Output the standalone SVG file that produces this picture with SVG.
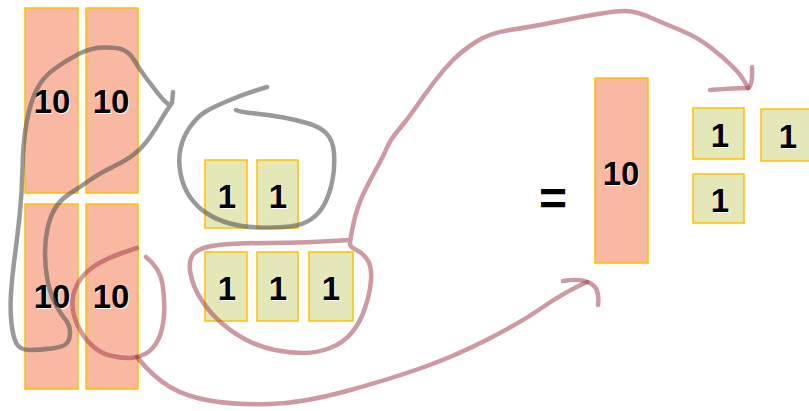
<svg xmlns="http://www.w3.org/2000/svg" width="809" height="411" viewBox="0 0 809 411">
<style>
.ten{fill:#F9B8A1;stroke:#FFC000;stroke-width:1.5}
.one{fill:#E4E8B9;stroke:#FFC000;stroke-width:1.5}
.lbl{font-family:"Liberation Sans",Arial,sans-serif;font-weight:bold;font-size:33px;text-anchor:middle;fill:#000}
.sh{fill:#fff;opacity:0.9}
.gray{fill:none;stroke:#555;stroke-opacity:0.6;stroke-width:4.5;stroke-linecap:round;stroke-linejoin:round}
.red{fill:none;stroke:#9b3348;stroke-opacity:0.5;stroke-width:4.5;stroke-linecap:round;stroke-linejoin:round}
</style>
<rect width="809" height="411" fill="#fff"/>
<g id="ten-a"><rect class="ten" x="25" y="8" width="53" height="185"/><text class="lbl sh" x="53" y="114">10</text><text class="lbl" x="52" y="113">10</text></g>
<g id="ten-b"><rect class="ten" x="86" y="8" width="52" height="185"/><text class="lbl sh" x="112" y="114">10</text><text class="lbl" x="111" y="113">10</text></g>
<g id="ten-c"><rect class="ten" x="25" y="204" width="53" height="185"/><text class="lbl sh" x="53" y="309">10</text><text class="lbl" x="52" y="308">10</text></g>
<g id="ten-d"><rect class="ten" x="86" y="204" width="52" height="185"/><text class="lbl sh" x="112" y="309">10</text><text class="lbl" x="111" y="308">10</text></g>
<g id="one-a"><rect class="one" x="205" y="160" width="42" height="68"/><text class="lbl sh" x="228" y="209">1</text><text class="lbl" x="227" y="208">1</text></g>
<g id="one-b"><rect class="one" x="257" y="160" width="41" height="68"/><text class="lbl sh" x="279" y="209">1</text><text class="lbl" x="278" y="208">1</text></g>
<g id="one-c"><rect class="one" x="205" y="252" width="42" height="69"/><text class="lbl sh" x="228" y="301">1</text><text class="lbl" x="227" y="300">1</text></g>
<g id="one-d"><rect class="one" x="257" y="252" width="41" height="69"/><text class="lbl sh" x="279" y="301">1</text><text class="lbl" x="278" y="300">1</text></g>
<g id="one-e"><rect class="one" x="309" y="252" width="44" height="69"/><text class="lbl sh" x="332" y="301">1</text><text class="lbl" x="331" y="300">1</text></g>
<g id="equals"><text class="lbl" x="553" y="215" style="font-size:48px">=</text></g>
<g id="ten-result"><rect class="ten" x="595" y="78" width="53" height="185"/><text class="lbl sh" x="622" y="186">10</text><text class="lbl" x="621" y="185">10</text></g>
<g id="one-r1"><rect class="one" x="693" y="108" width="51" height="51"/><text class="lbl sh" x="721" y="148">1</text><text class="lbl" x="720" y="147">1</text></g>
<g id="one-r2"><rect class="one" x="761" y="109" width="52" height="52"/><text class="lbl sh" x="789" y="149">1</text><text class="lbl" x="788" y="148">1</text></g>
<g id="one-r3"><rect class="one" x="693" y="174" width="51" height="49"/><text class="lbl sh" x="721" y="213">1</text><text class="lbl" x="720" y="212">1</text></g>
<g id="connectors">
<path class="gray" d="M 173,92 L 172,103 Q 166,111 161.5,119 Q 157,127 150,137 Q 143,147 135,153.5 Q 127,160 113.5,166.5 Q 100,173 90,180 Q 80,187 70,193.5 Q 60,200 55,208.5 Q 50,217 47.5,228.5 Q 45,240 45,253.5 Q 45,267 47.5,280 Q 50,293 55,303 Q 60,313 65,319 Q 70,325 70,332.5 Q 70,340 66.5,343.5 Q 63,347 51.5,348.5 Q 40,350 30,350 Q 20,350 16.5,343.5 Q 13,337 11.5,323.5 Q 10,310 11,293.5 Q 12,277 14.5,258.5 Q 17,240 19.5,216.5 Q 22,193 22.5,168 Q 23,143 26.5,123 Q 30,103 36.5,90 Q 43,77 55,68.5 Q 67,60 78.5,54 Q 90,48 103.5,47.5 Q 117,47 123.5,50 Q 130,53 135,61.5 Q 140,70 146.5,78.5 Q 153,87 158,93.5 Q 163,100 168,104"/>
<path class="gray" d="M 267,87 Q 247,93 230,100 Q 213,107 205,112 Q 197,117 190,127 Q 183,137 180.5,148.5 Q 178,160 180.5,173.5 Q 183,187 190,197 Q 197,207 207,213.5 Q 217,220 230,223.5 Q 243,227 260,227.5 Q 277,228 290,226.5 Q 303,225 311.5,219 Q 320,213 325,203 Q 330,193 332.5,180 Q 335,167 334,153.5 Q 333,140 326.5,133.5 Q 320,127 308.5,123.5 Q 297,120 283.5,117.5 Q 270,115 255,113.5 Q 240,112 236,110"/>
<path class="red" d="M 146,257 Q 160,268 162.5,284 Q 165,300 164,315 Q 163,330 158,340 Q 153,350 145,354 Q 137,358 128.5,358 Q 120,358 110,355.5 Q 100,353 91.5,345 Q 83,337 77.5,325 Q 72,313 72.5,301.5 Q 73,290 80,280 Q 87,270 98.5,263.5 Q 110,257 123.5,252.5 Q 137,248 137,248"/>
<path class="red" d="M 137,357 Q 153,377 170,387 Q 187,397 212,401 Q 237,405 270,404 Q 303,403 345,391.5 Q 387,380 420,368.5 Q 453,357 486.5,340 Q 520,323 541.5,308 Q 563,293 587,282"/>
<path class="red" d="M 563,281 Q 580,278 590,283 Q 600,288 598,305"/>
<path class="red" d="M 350,240 Q 303,243 270,243 Q 237,243 218.5,245 Q 200,247 194,253.5 Q 188,260 190.5,273.5 Q 193,287 201.5,300 Q 210,313 221.5,323 Q 233,333 246.5,340 Q 260,347 275,350 Q 290,353 303.5,353 Q 317,353 330,348 Q 343,343 351.5,333 Q 360,323 365,308 Q 370,293 371,280 Q 372,267 367.5,260 Q 363,253 356.5,250 Q 350,247 350,243.5 Q 350,240 353.5,223.5 Q 357,207 363.5,193.5 Q 370,180 376.5,168.5 Q 383,157 386.5,148.5 Q 390,140 398.5,130 Q 407,120 415,108.5 Q 423,97 433,83.5 Q 443,70 453,60 Q 463,50 476.5,41.5 Q 490,33 510,30 Q 530,27 555,22 Q 580,17 601.5,13.5 Q 623,10 631.5,11.5 Q 640,13 651.5,18 Q 663,23 680,30 Q 697,37 710,47 Q 723,57 733,67 Q 743,77 748,88"/>
<path class="red" d="M 710,90 Q 735,88 748,88 Q 753,85 752,67"/>
</g>
</svg>
